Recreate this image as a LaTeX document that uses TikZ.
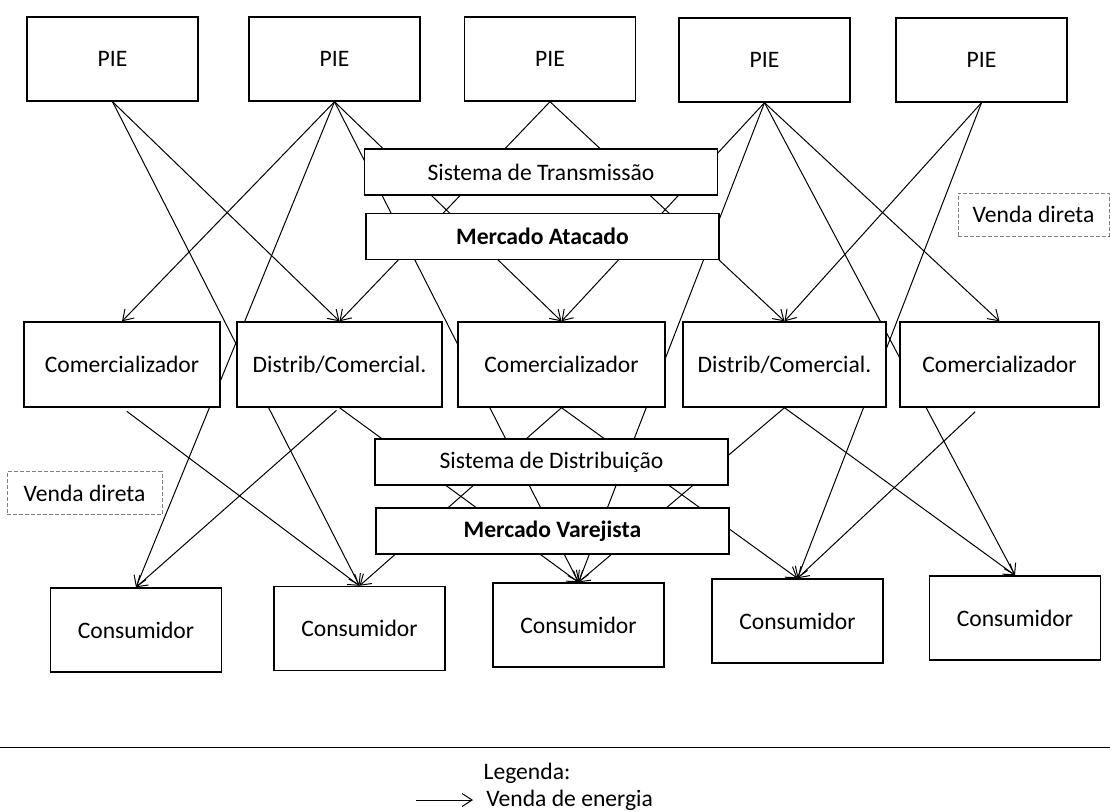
\documentclass[tikz,border=0pt]{standalone}
\usepackage{fontspec}
\setmainfont{Carlito}
\usetikzlibrary{arrows.meta}
\pgfdeclarelayer{back}
\pgfsetlayers{back,main}

\begin{document}
\begin{tikzpicture}[x=0.5pt, y=-0.5pt,
    font=\fontsize{11.8}{13}\selectfont,
    box/.style={draw, line width=0.7pt, fill=white, inner sep=0pt},
    pie/.style={box, minimum width=85.5pt, minimum height=42pt},
    agent/.style={box, minimum height=42.5pt},
    cons/.style={box, minimum width=85.5pt, minimum height=42pt},
    band/.style={box, minimum width=176.5pt, minimum height=23pt},
    note/.style={draw=gray, dash pattern=on 2pt off 1pt, line width=0.4pt, inner sep=0pt, minimum height=21.5pt},
    sale/.style={line width=0.5pt, -{Straight Barb[length=5pt, width=6.5pt]}}
]

    \useasboundingbox (0,0) rectangle (1110,811);

    % Producers
    \foreach \n/\x/\y in {1/112.5/59, 2/334.5/59, 3/550/59, 4/764.5/60, 5/981.5/60} {
        \node[pie] (pie\n) at (\x,\y) {PIE};
    }

    % Transmission and wholesale market
    \node[band] (trans) at (541,172) {Sistema de Transmissão};
    \node[band] (atac) at (542.5,236.5) {\bfseries Mercado Atacado};

    % Traders and distributors
    \node[agent, minimum width=98pt] (com1) at (122,364.5) {Comercializador};
    \node[agent, minimum width=102.5pt] (dis2) at (339.5,364.5) {Distrib/Comercial.};
    \node[agent, minimum width=103.5pt] (com3) at (561.5,364.5) {Comercializador};
    \node[agent, minimum width=101.5pt] (dis4) at (784.5,364.5) {Distrib/Comercial.};
    \node[agent, minimum width=99.5pt] (com5) at (999.5,364.5) {Comercializador};

    % Distribution and retail market
    \node[band] (distr) at (551.5,462) {Sistema de Distribuição};
    \node[band] (varej) at (552.5,531) {\bfseries Mercado Varejista};

    % Consumers
    \foreach \n/\x/\y in {1/136/630, 2/359.5/628.5, 3/578.5/625, 4/797.5/621, 5/1015/618} {
        \node[cons] (con\n) at (\x,\y) {Consumidor};
    }

    % Direct sale notes
    \node[note, minimum width=75.5pt] (direct1) at (1033.5,214.5) {Venda direta};
    \node[note, minimum width=77.5pt] (direct2) at (84.5,493) {Venda direta};

    % Energy sales (behind the boxes)
    \begin{pgfonlayer}{back}
    \foreach \a/\b in {pie1/con2, pie1/dis2, pie2/com1, pie2/con1, pie2/con3, pie2/com3,
                       pie3/dis2, pie3/dis4, pie4/com3, pie4/con3, pie4/con5, pie4/com5,
                       pie5/dis4, pie5/con4, dis2/con3, com3/con2, com3/con4, dis4/con3, dis4/con5} {
        \draw[sale] (\a.south) -- (\b.north);
    }
    \draw[sale, shorten <=3pt] (com1.south) -- (con2.north);
    \draw[sale, shorten <=2pt] (dis2.south) -- (con1.north);
    \draw[sale, shorten <=3pt] ([xshift=-10pt]com5.south) -- (con4.north);
    \end{pgfonlayer}

    % Legend
    \coordinate (rule west) at (0,747);
    \coordinate (rule east) at (1110,747);
    \draw[line width=0.5pt] (rule west) -- (rule east);
    \node (legend) at (527,773) {Legenda:};
    \coordinate (key tail) at (416,800);
    \coordinate (key head) at (473,800);
    \draw[sale] (key tail) -- (key head);
    \node[anchor=west, inner sep=0pt] (key) at (486,800) {Venda de energia};

\end{tikzpicture}
\end{document}
